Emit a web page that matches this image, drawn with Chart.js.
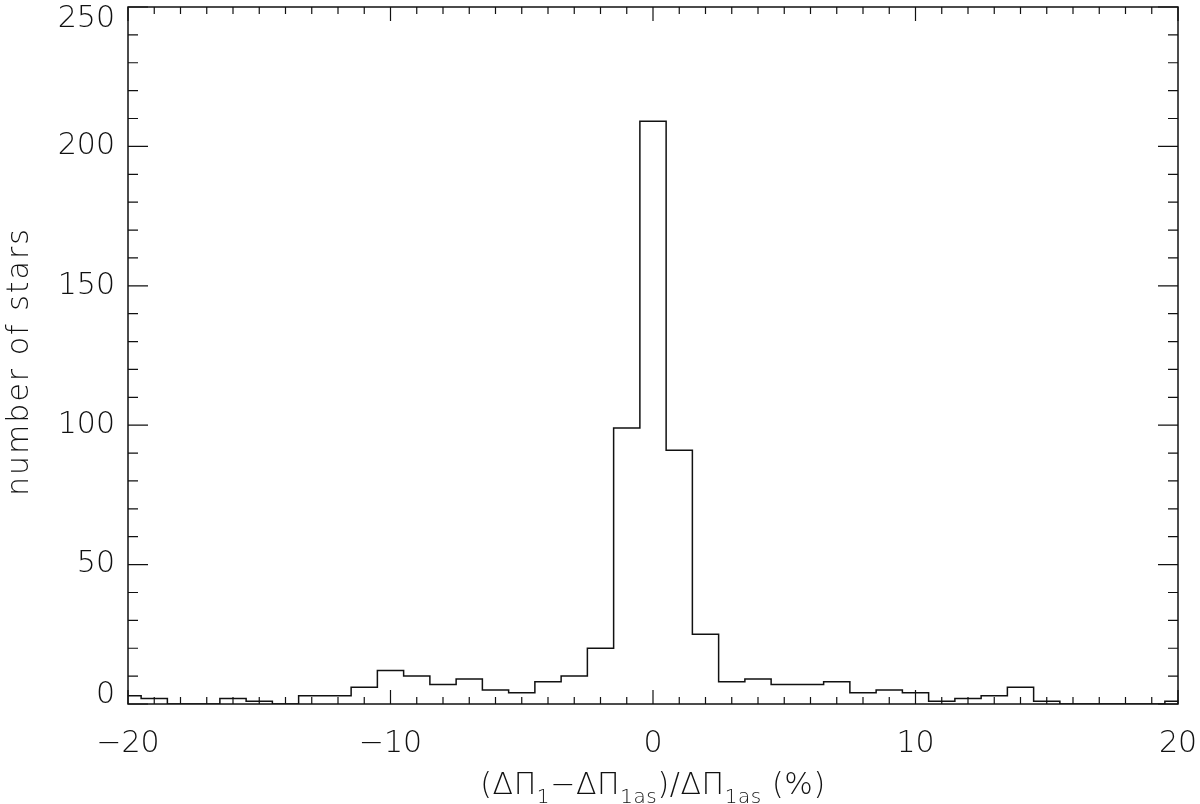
<!DOCTYPE html>
<html>
<head>
<meta charset="utf-8">
<script src="https://cdn.jsdelivr.net/npm/chart.js@4/dist/chart.umd.min.js"></script>
<style>
  body { margin: 0; background: #fff; }
  canvas { display: block; }
</style>
</head>
<body>
<canvas id="chart" width="1200" height="804"></canvas>
<script>
// histogram bins (bin centres, width 1 %)
const binCenters = [-20, -19, -18, -17, -16, -15, -14, -13, -12, -11, -10, -9, -8, -7, -6, -5, -4, -3, -2, -1,
  0, 1, 2, 3, 4, 5, 6, 7, 8, 9, 10, 11, 12, 13, 14, 15, 16, 17, 18, 19, 20];
const counts = [3, 2, 0, 0, 2, 1, 0, 3, 3, 6, 12, 10, 7, 9, 5, 4, 8, 10, 20, 99,
  209, 91, 25, 8, 9, 7, 7, 8, 4, 5, 4, 1, 2, 3, 6, 1, 0, 0, 0, 0, 1];

// axis ticks
const xMajorTicks = [-20, -10, 0, 10, 20];
const xTickLabels = ["\u221220", "\u221210", "0", "10", "20"];
const xMinorStep = 1;
const yMajorTicks = [0, 50, 100, 150, 200, 250];
const yTickLabels = ["0", "50", "100", "150", "200", "250"];
const yMinorStep = 10;

const yTitle = "number of stars";
// x title pieces: [text, isSubscript]
const xTitle = [["(\u0394\u03a0", 0], ["1", 1], ["\u2212\u0394\u03a0", 0], ["1as", 1],
  [")/\u0394\u03a0", 0], ["1as", 1], [" (%)", 0]];

const FONT = '"DejaVu Sans", sans-serif';
const ink = "#111";

// IDL style frame: box, inward ticks on all sides, labels and titles
const idlAxes = {
  id: "idlAxes",
  afterDatasetsDraw(chart) {
    const { ctx, chartArea: a, scales: { x, y } } = chart;
    ctx.save();
    ctx.strokeStyle = ink;
    ctx.lineWidth = 1.5;
    ctx.strokeRect(a.left, a.top, a.right - a.left, a.bottom - a.top);

    ctx.lineWidth = 1.2;
    ctx.beginPath();
    for (let v = x.min; v <= x.max; v += xMinorStep) {
      const px = x.getPixelForValue(v);
      const len = xMajorTicks.includes(v) ? 14 : 7;
      ctx.moveTo(px, a.bottom); ctx.lineTo(px, a.bottom - len);
      ctx.moveTo(px, a.top); ctx.lineTo(px, a.top + len);
    }
    for (let v = y.min; v <= y.max; v += yMinorStep) {
      const py = y.getPixelForValue(v);
      const len = yMajorTicks.includes(v) ? 20 : 10;
      ctx.moveTo(a.left, py); ctx.lineTo(a.left + len, py);
      ctx.moveTo(a.right, py); ctx.lineTo(a.right - len, py);
    }
    ctx.stroke();

    ctx.fillStyle = ink;
    ctx.font = "200 30px " + FONT;
    ctx.textAlign = "center";
    ctx.textBaseline = "alphabetic";
    xMajorTicks.forEach((v, i) => {
      ctx.fillText(xTickLabels[i], x.getPixelForValue(v), a.bottom + 48);
    });
    ctx.textAlign = "right";
    ctx.textBaseline = "middle";
    yMajorTicks.forEach((v, i) => {
      const py = Math.min(Math.max(y.getPixelForValue(v), a.top + 12), a.bottom - 9);
      ctx.fillText(yTickLabels[i], a.left - 13, py);
    });

    // y title
    ctx.save();
    ctx.translate(28, (a.top + a.bottom) / 2 + 6);
    ctx.rotate(-Math.PI / 2);
    ctx.letterSpacing = "2px";
    ctx.textAlign = "center";
    ctx.textBaseline = "alphabetic";
    ctx.fillText(yTitle, 0, 0);
    ctx.restore();

    // x title with subscripts
    const big = "200 30px " + FONT, small = "200 20px " + FONT;
    ctx.letterSpacing = "0.6px";
    let total = 0;
    xTitle.forEach(([t, sub]) => { ctx.font = sub ? small : big; total += ctx.measureText(t).width; });
    let cx = (a.left + a.right) / 2 - total / 2;
    const base = a.bottom + 90;
    ctx.textAlign = "left";
    ctx.textBaseline = "alphabetic";
    xTitle.forEach(([t, sub]) => {
      ctx.font = sub ? small : big;
      ctx.fillText(t, cx, sub ? base + 9 : base);
      cx += ctx.measureText(t).width;
    });
    ctx.restore();
  }
};

new Chart(document.getElementById("chart"), {
  type: "line",
  data: {
    datasets: [{
      data: binCenters.map((c, i) => ({ x: c, y: counts[i] })),
      stepped: "middle",
      borderColor: ink,
      borderWidth: 1.5,
      pointRadius: 0,
      fill: false
    }]
  },
  options: {
    responsive: false,
    animation: false,
    devicePixelRatio: 1,
    layout: { padding: { top: 7, right: 22, left: 0, bottom: 0 } },
    plugins: { legend: { display: false }, tooltip: { enabled: false } },
    scales: {
      x: {
        type: "linear", min: -20, max: 20,
        ticks: { display: false }, grid: { display: false }, border: { display: false },
        afterFit(s) { s.height = 100; }
      },
      y: {
        type: "linear", min: 0, max: 250,
        ticks: { display: false }, grid: { display: false }, border: { display: false },
        afterFit(s) { s.width = 128; }
      }
    }
  },
  plugins: [idlAxes]
});
</script>
</body>
</html>
